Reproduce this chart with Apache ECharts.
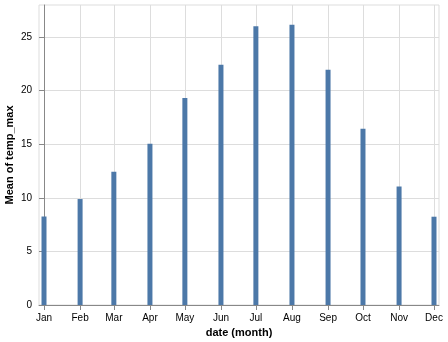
<!DOCTYPE html>
<html>
<head>
<meta charset="utf-8">
<script src="https://cdn.jsdelivr.net/npm/echarts@6/dist/echarts.min.js"></script>
<style>html,body{margin:0;padding:0;background:#fff}#c{width:448px;height:342px}</style>
</head>
<body>
<div id="c"></div>
<script>
const monthLabels = ['Jan','Feb','Mar','Apr','May','Jun','Jul','Aug','Sep','Oct','Nov','Dec'];
const tempMax = [8.26, 9.89, 12.43, 15.05, 19.33, 22.42, 26.02, 26.15, 21.95, 16.45, 11.06, 8.24];
const yTicks = [0, 5, 10, 15, 20, 25];

const DAY = 86400000;
// month start times in days since 2012-01-01 (UTC, leap year 2012)
const monthDays = monthLabels.map((m, i) => (Date.UTC(2012, i, 1) - Date.UTC(2012, 0, 1)) / DAY);
const pad = 4.3;
const seriesData = monthDays.map((d, i) => [d, tempMax[i]]);

const chart = echarts.init(document.getElementById('c'), null, {renderer: 'canvas'});
const font = 'Liberation Sans, Arial, sans-serif';
chart.setOption({
  animation: false,
  grid: {left: 39, top: 5, width: 400, height: 300, show: true, borderColor: '#ddd', borderWidth: 1, containLabel: false, outerBoundsMode: 'none'},
  xAxis: {
    type: 'value',
    min: monthDays[0] - pad,
    max: monthDays[11] + pad,
    name: 'date (month)',
    nameLocation: 'middle',
    nameGap: 22,
    nameMoveOverlap: false,
    nameTextStyle: {fontFamily: font, fontSize: 11, fontWeight: 'bold', color: '#000'},
    axisLine: {show: true, lineStyle: {color: '#888', width: 1}},
    axisTick: {show: true, length: 5, customValues: monthDays, lineStyle: {color: '#888'}},
    axisLabel: {
      customValues: monthDays,
      margin: 8,
      showMinLabel: true, showMaxLabel: true,
      fontFamily: font, fontSize: 10, color: '#000',
      formatter: v => { const i = monthDays.indexOf(v); return i >= 0 ? monthLabels[i] : ''; }
    },
    splitLine: {show: true, lineStyle: {color: '#ddd', width: 1}}
  },
  yAxis: {
    type: 'value',
    min: 0,
    max: 28,
    interval: 5,
    name: 'Mean of temp_max',
    nameLocation: 'middle',
    nameGap: 24,
    nameMoveOverlap: false,
    nameTextStyle: {fontFamily: font, fontSize: 11, fontWeight: 'bold', color: '#000'},
    axisLine: {show: true, lineStyle: {color: '#888', width: 1}},
    axisTick: {show: true, length: 5, customValues: yTicks, lineStyle: {color: '#888'}},
    axisLabel: {customValues: yTicks, margin: 7, fontFamily: font, fontSize: 10, color: '#000'},
    splitLine: {show: true, lineStyle: {color: '#ddd', width: 1}}
  },
  series: [{
    type: 'bar',
    data: seriesData,
    barWidth: 5,
    itemStyle: {color: '#4c78a8'}
  }]
});
</script>
</body>
</html>
